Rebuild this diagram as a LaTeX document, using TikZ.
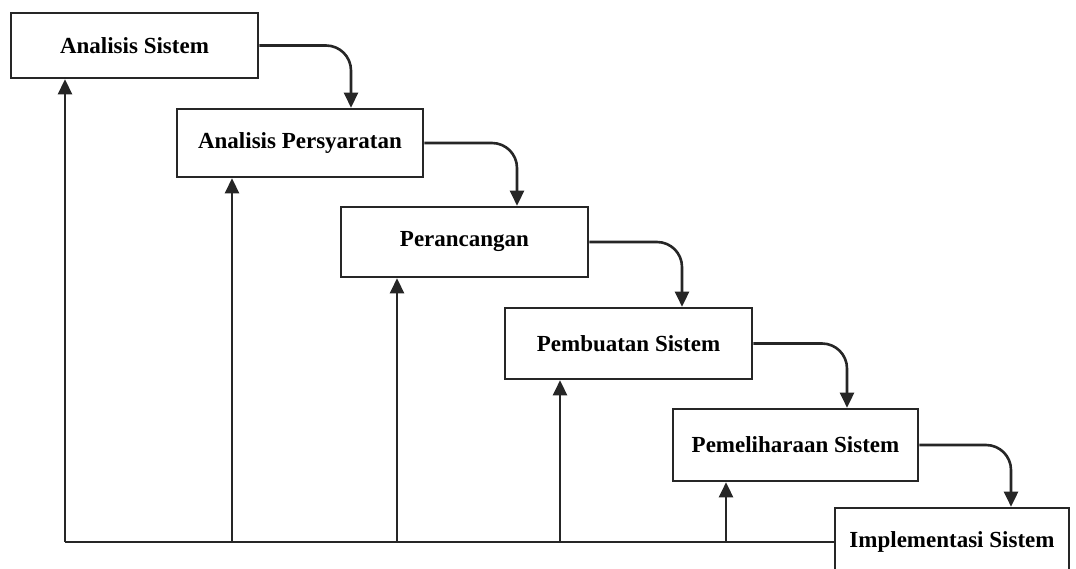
\documentclass[tikz,border=0pt]{standalone}
\usepackage{fontspec}
\setmainfont{Liberation Serif}
\usetikzlibrary{arrows.meta}
\begin{document}
\begin{tikzpicture}[x=1pt,y=-1pt,
  stage/.style={draw=black!85, line width=2.6pt, fill=white, inner sep=0pt,
    font=\fontsize{23}{27}\selectfont\bfseries},
  flow/.style={draw=black!85, line width=2.6pt, -{Triangle[length=15pt,width=14pt]}},
  plain/.style={draw=black!85, line width=2.6pt}]
\useasboundingbox (0,0) rectangle (1076,569);
\node[stage, minimum width=247pt, minimum height=65pt] (b1) at (134.5,45.5) {Analisis Sistem};
\node[stage, minimum width=246pt, minimum height=68pt] (b2) at (300,143) {Analisis Persyaratan};
\node[stage, minimum width=247pt, minimum height=70pt] (b3) at (464.5,242) {Perancangan};
\node[stage, minimum width=247pt, minimum height=71pt] (b4) at (628.5,343.5) {Pembuatan Sistem};
\node[stage, minimum width=245pt, minimum height=72pt] (b5) at (795.5,445) {Pemeliharaan Sistem};
\node[stage, minimum width=234pt, minimum height=68pt] (b6) at (952,542) {Implementasi Sistem};
% forward flow
\draw[flow, rounded corners=25pt] (b1.east) -| ([xshift=51pt]b2.north);
\draw[flow, rounded corners=25pt] (b2.east) -| ([xshift=52.5pt]b3.north);
\draw[flow, rounded corners=25pt] (b3.east) -| ([xshift=53.5pt]b4.north);
\draw[flow, rounded corners=25pt] (b4.east) -| ([xshift=51.5pt]b5.north);
\draw[flow, rounded corners=25pt] (b5.east) -| ([xshift=59pt]b6.north);
% feedback lines
\coordinate (u1) at (65,542);
\coordinate (u2) at (232,542);
\coordinate (u3) at (397,542);
\coordinate (u4) at (560,542);
\coordinate (u5) at (726,542);
\draw[plain] (b6.west) -- (u1);
\draw[flow] (u1) -- (u1 |- b1.south);
\draw[flow] (u2) -- (u2 |- b2.south);
\draw[flow] (u3) -- (u3 |- b3.south);
\draw[flow] (u4) -- (u4 |- b4.south);
\draw[flow] (u5) -- (u5 |- b5.south);
\end{tikzpicture}
\end{document}
